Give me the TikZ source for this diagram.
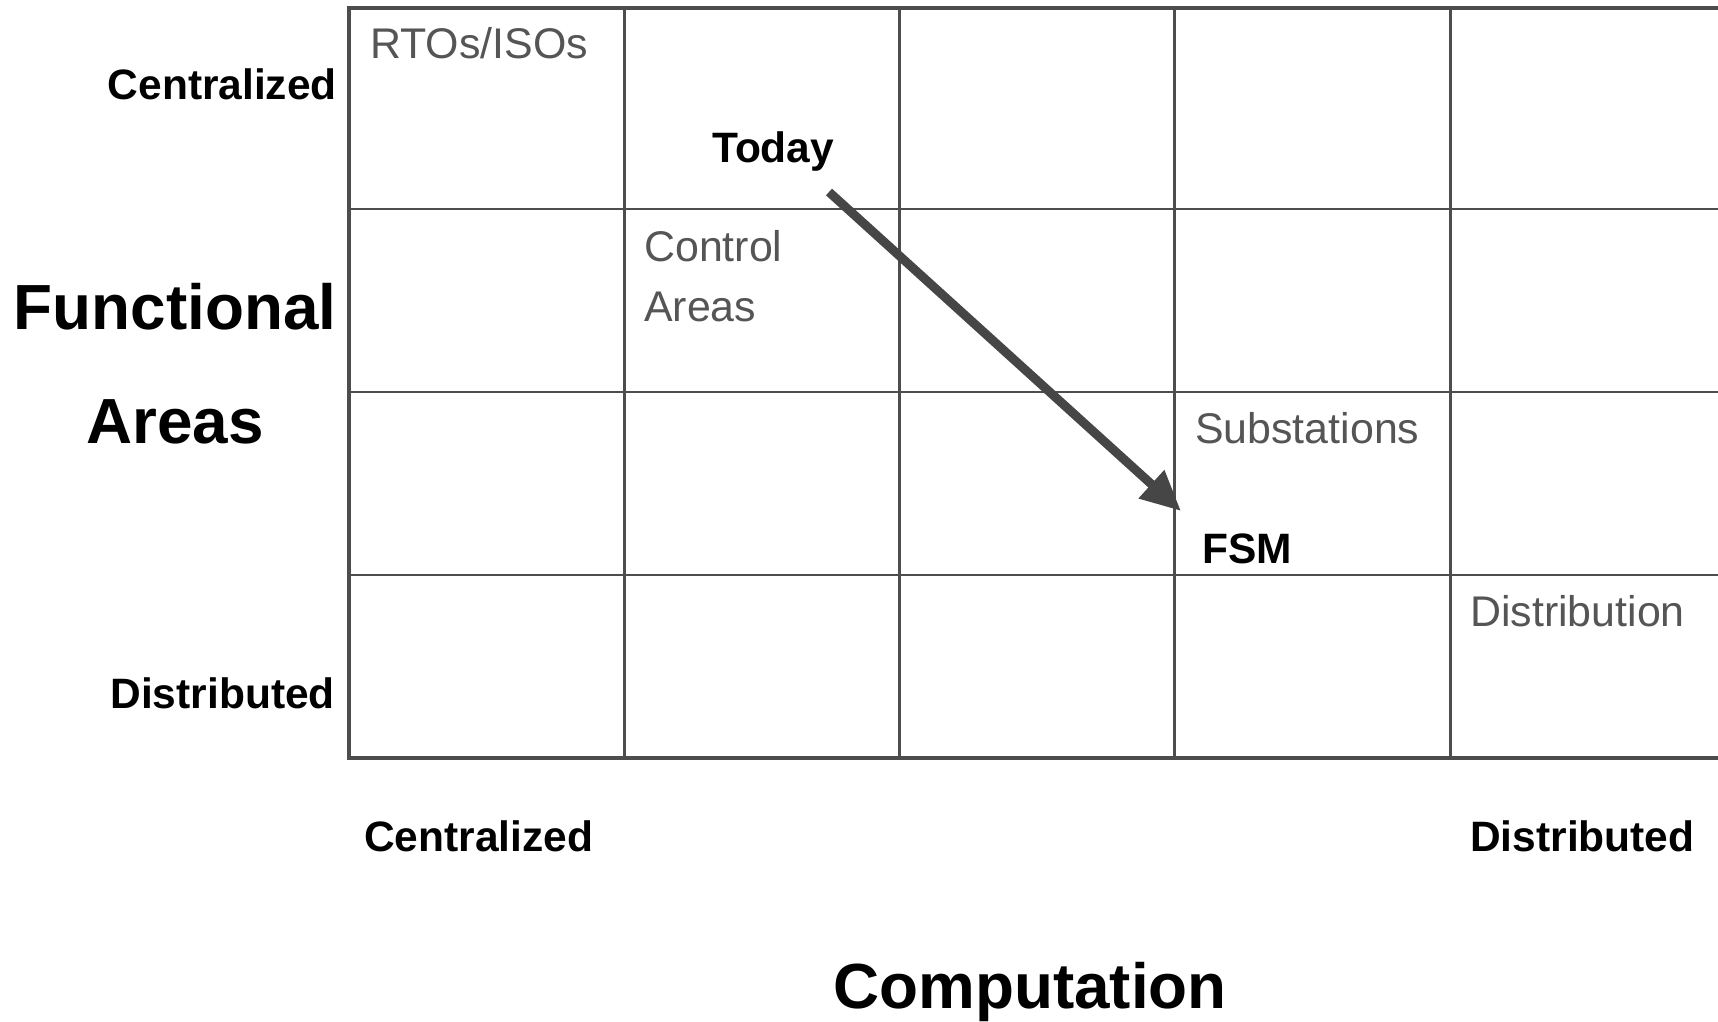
\documentclass[tikz,border=0pt]{standalone}
\usepackage{fontspec}
\setmainfont{Liberation Sans}
\usetikzlibrary{arrows.meta}
\definecolor{gridgray}{HTML}{4D4D4D}
\definecolor{txtgray}{HTML}{555555}
\definecolor{arrgray}{HTML}{464646}
\begin{document}
\begin{tikzpicture}[x=1pt,y=-1pt,
  axislbl/.style={font=\fontsize{42.5}{50}\selectfont\bfseries, text=black, inner sep=0pt},
  bigaxis/.style={font=\fontsize{63.8}{75}\selectfont\bfseries, text=black, inner sep=0pt},
  celllbl/.style={font=\fontsize{42.9}{60}\selectfont, text=txtgray, inner sep=0pt, anchor=base west, align=left},
  marklbl/.style={font=\fontsize{42.5}{50}\selectfont\bfseries, text=black, inner sep=0pt, anchor=base west},
  thinline/.style={draw=gridgray, line width=2.5pt},
  thickline/.style={draw=gridgray, line width=4.5pt},
  trend/.style={draw=arrgray, line width=9pt, -{Triangle[length=40pt,width=36pt]}}]
\useasboundingbox (0,0) rectangle (1718,1021);
\fill[white] (0,0) rectangle (1718,1021);

% grid of cells
\foreach \y in {209,392,575} \draw[thinline] (349,\y) -- (1718,\y);
\foreach \x in {624.5,899.6,1174.6,1450.7} \draw[thinline] (\x,8) -- (\x,758);
\draw[thickline] (1718,8) -- (349,8) -- (349,758) -- (1718,758);

% vertical axis labels
\node[axislbl, anchor=base east] (ycen) at (337,99) {Centralized};
\node[bigaxis, anchor=base] (yfun) at (175,329) {Functional};
\node[bigaxis, anchor=base] (yare) at (175,443) {Areas};
\node[axislbl, anchor=base east] (ydis) at (335,708) {Distributed};

% horizontal axis labels
\node[axislbl, anchor=base west] (xcen) at (364,851) {Centralized};
\node[axislbl, anchor=base west] (xdis) at (1470,851) {Distributed};
\node[bigaxis, anchor=base] (xcomp) at (1030,1008) {Computation};

% cell labels (base of a two-line node is its last line)
\node[celllbl] (rto) at (370,58) {RTOs/ISOs};
\node[celllbl] (ctl) at (644,321) {Control\\Areas};
\node[celllbl] (sub) at (1195,443) {Substations};
\node[celllbl] (dst) at (1470,626) {Distribution};

% trend from today to FSM
\node[marklbl] (today) at (712,162) {Today};
\node[marklbl] (fsm) at (1202,563) {FSM};
\coordinate (arrS) at (829,192);
\coordinate (arrE) at (1181,511);
\draw[trend] (arrS) -- (arrE);
\end{tikzpicture}
\end{document}
